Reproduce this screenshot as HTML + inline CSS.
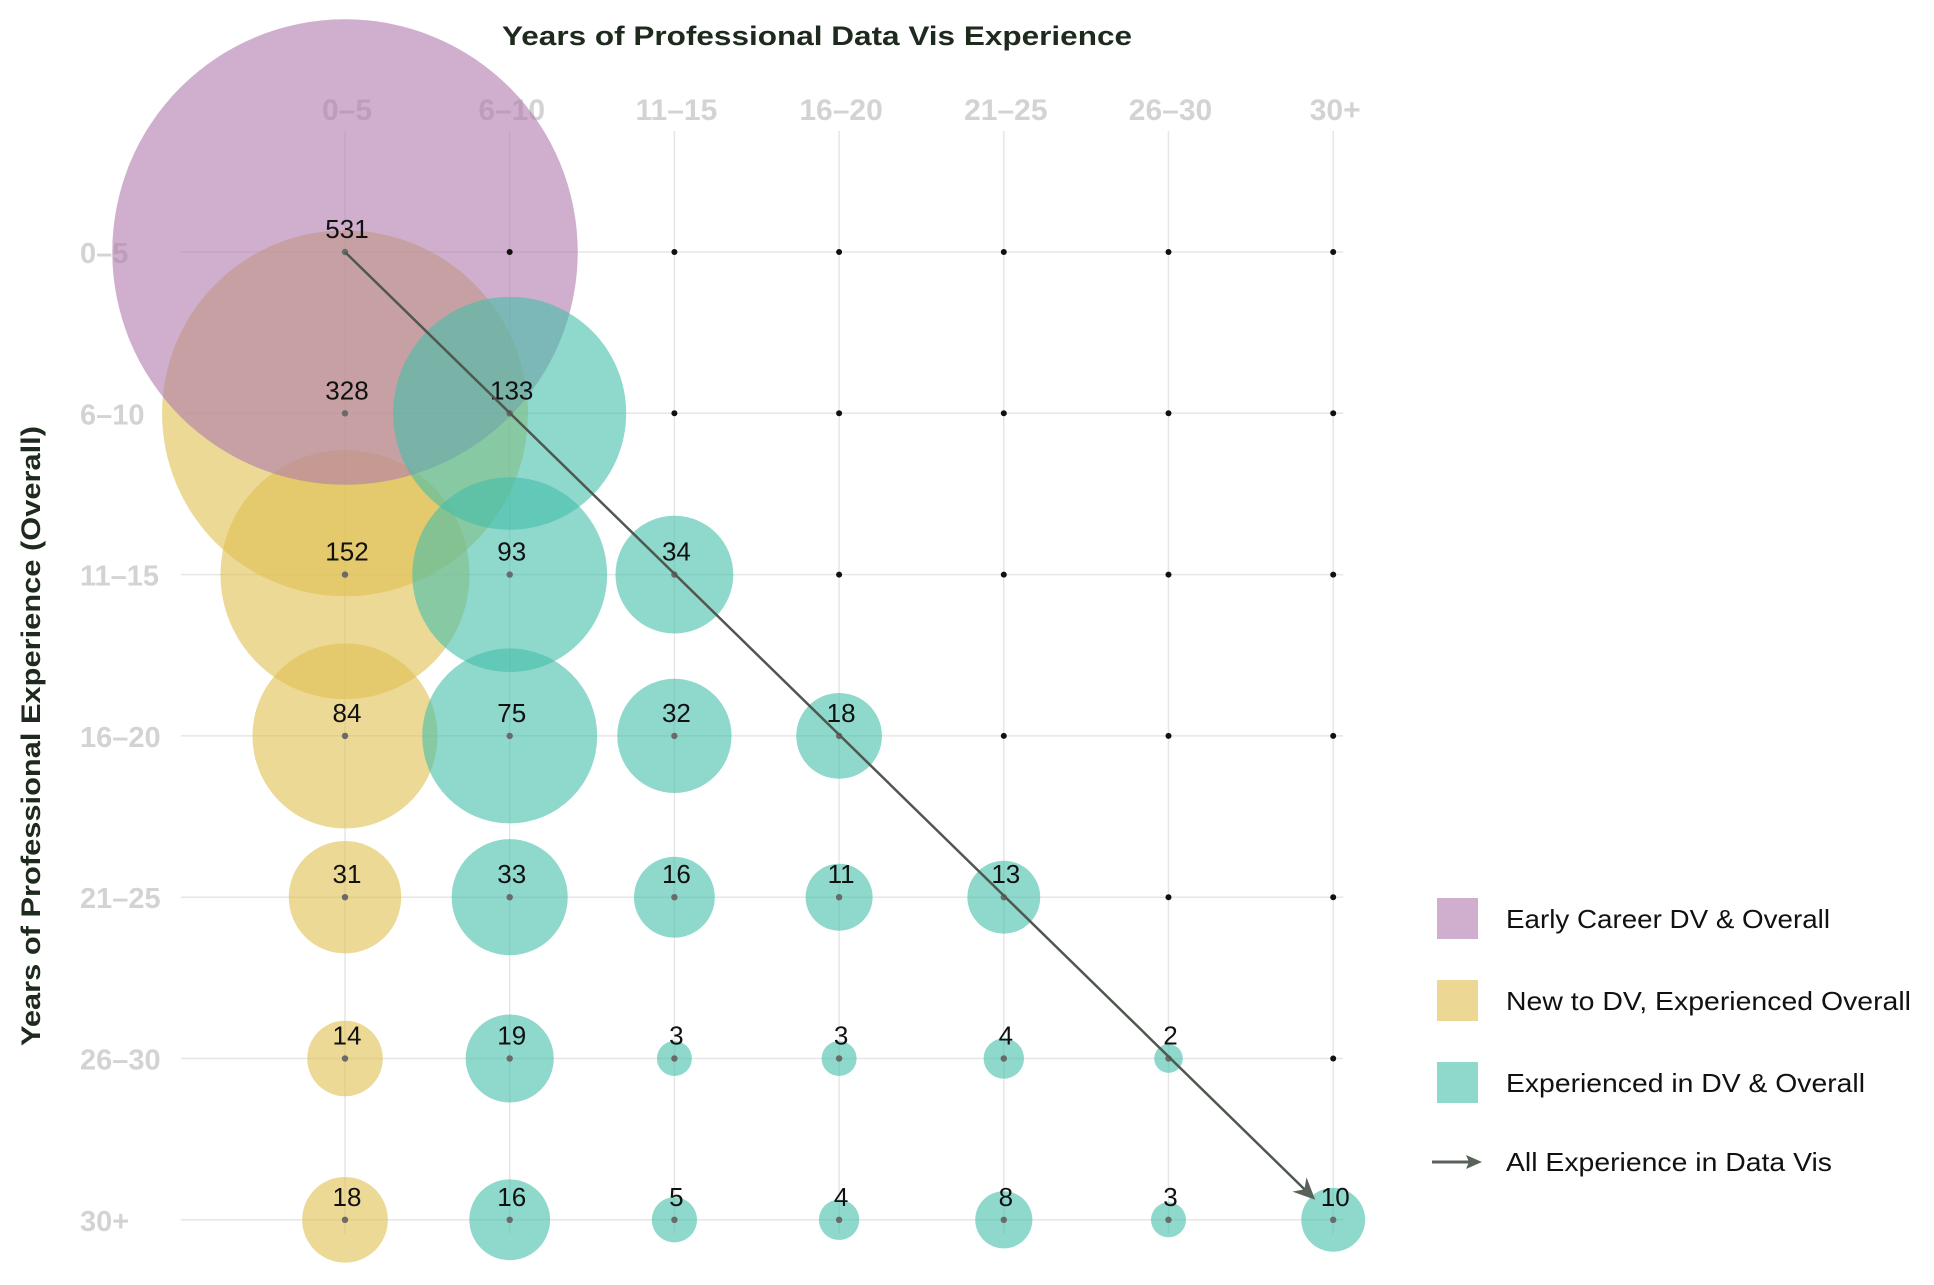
<!DOCTYPE html>
<html><head><meta charset="utf-8"><style>
html,body{margin:0;padding:0;background:#fff;}
svg{display:block;font-family:"Liberation Sans",sans-serif;}
</style></head><body>
<svg id="chart" width="1934" height="1285" viewBox="0 0 1934 1285">
<g id="grid"></g>
<g id="ticks"></g>
<g id="bubbles"></g>
<g id="dots"></g>
<g id="labels"></g>
<text x="817" y="45" text-anchor="middle" font-size="27" font-weight="bold" fill="#1e2a1e" textLength="630" lengthAdjust="spacingAndGlyphs">Years of Professional Data Vis Experience</text>
<text transform="translate(40,736) rotate(-90)" text-anchor="middle" font-size="27" font-weight="bold" fill="#1e2a1e" textLength="620" lengthAdjust="spacingAndGlyphs">Years of Professional Experience (Overall)</text>
<g>
<rect x="1437" y="898" width="41" height="41" fill="#cfafcd"/>
<text x="1506" y="928" font-size="26" fill="#111" textLength="324" lengthAdjust="spacingAndGlyphs">Early Career DV &amp; Overall</text>
<rect x="1437" y="980" width="41" height="41" fill="#ecd795"/>
<text x="1506" y="1010" font-size="26" fill="#111" textLength="405" lengthAdjust="spacingAndGlyphs">New to DV, Experienced Overall</text>
<rect x="1437" y="1062" width="41" height="41" fill="#8fd8cc"/>
<text x="1506" y="1092" font-size="26" fill="#111" textLength="359" lengthAdjust="spacingAndGlyphs">Experienced in DV &amp; Overall</text>
<line x1="1432" y1="1162" x2="1470" y2="1162" stroke="#596259" stroke-width="3"/>
<polygon points="1482,1162 1466,1155 1469,1162 1466,1169" fill="#596259"/>
<text x="1506" y="1171" font-size="26" fill="#111" textLength="326" lengthAdjust="spacingAndGlyphs">All Experience in Data Vis</text>
</g>
<g id="arrow"></g>
</svg>
<script>
const colCats = ["0–5","6–10","11–15","16–20","21–25","26–30","30+"];
const rowCats = ["0–5","6–10","11–15","16–20","21–25","26–30","30+"];
const row0 = [531];
const row1 = [328,133];
const row2 = [152,93,34];
const row3 = [84,75,32,18];
const row4 = [31,33,16,11,13];
const row5 = [14,19,3,3,4,2];
const row6 = [18,16,5,4,8,3,10];
const rows = [row0,row1,row2,row3,row4,row5,row6];

const NS="http://www.w3.org/2000/svg";
const x0=345, dx=164.7, y0=252, dy=161.3, k=10.1;
function xPos(i){return x0+i*dx;}
function yPos(j){return y0+j*dy;}
function rScale(v){return k*Math.sqrt(v);}
function mk(tag,attrs,parent){const e=document.createElementNS(NS,tag);for(const a in attrs)e.setAttribute(a,attrs[a]);parent.appendChild(e);return e;}

const grid=document.getElementById('grid'), ticks=document.getElementById('ticks');
const bub=document.getElementById('bubbles'), dots=document.getElementById('dots'), labs=document.getElementById('labels');
const lastX=xPos(colCats.length-1), lastY=yPos(rowCats.length-1);
colCats.forEach((c,i)=>{
  const l=mk('line',{x1:xPos(i),x2:xPos(i),y1:131,y2:lastY+14,stroke:'#e6e6e6','stroke-width':1.5},grid);
  
  
  const t=mk('text',{x:xPos(i)+2,y:120,'text-anchor':'middle','font-size':30,'font-weight':'bold',fill:'#d3d3d3'},ticks);
  t.textContent=c;
  
  
});
rowCats.forEach((c,j)=>{
  const l=mk('line',{x1:181,x2:lastX+10,y1:yPos(j),y2:yPos(j),stroke:'#e6e6e6','stroke-width':1.5},grid);
  
  
  const t=mk('text',{x:80,y:yPos(j)+11,'font-size':29,'font-weight':'bold',fill:'#d3d3d3'},ticks);
  t.textContent=c;
  
  
});
function color(i,j){ if(i===0&&j===0) return '#af7aac'; if(i===0) return '#e0bf50'; return '#44beaa'; }
const order=[];
rows.forEach((r,j)=>r.forEach((v,i)=>order.push({i,j,v})));
const layer=o=>(o.i===0&&o.j===0)?1:(o.i===0?0:2);
order.sort((a,b)=>layer(a)-layer(b));
order.forEach(o=>{
  const c=mk('circle',{cx:xPos(o.i),cy:yPos(o.j),r:rScale(o.v),fill:color(o.i,o.j),'fill-opacity':0.6},bub);
  
  
  const d=mk('circle',{cx:xPos(o.i),cy:yPos(o.j),r:3.2,fill:'#6a6a6a'},dots);
  
  
  const t=mk('text',{x:xPos(o.i)+2,y:yPos(o.j)-14,'text-anchor':'middle','font-size':26,fill:'#111'},labs);
  t.textContent=o.v;
  
  
});
rowCats.forEach((rc,j)=>colCats.forEach((cc,i)=>{
  if(i>j){
    const d=mk('circle',{cx:xPos(i),cy:yPos(j),r:3,fill:'#111'},dots);
    
    
  }
}));
const ar=document.getElementById('arrow');
const ax1=xPos(0), ay1=yPos(0), ax2=xPos(6)-18, ay2=yPos(6)-20;
const ang=Math.atan2(ay2-ay1,ax2-ax1);
const ln=mk('line',{x1:ax1,y1:ay1,x2:ax2-12*Math.cos(ang),y2:ay2-12*Math.sin(ang),stroke:'#4f574f','stroke-width':2.5},ar);


function pt(d,a){return (ax2-d*Math.cos(ang)+a*Math.sin(ang))+','+(ay2-d*Math.sin(ang)-a*Math.cos(ang));}
const hd=mk('polygon',{points:[pt(0,0),pt(22,10),pt(15,0),pt(22,-10)].join(' '),fill:'#596259'},ar);


</script>
</body></html>
